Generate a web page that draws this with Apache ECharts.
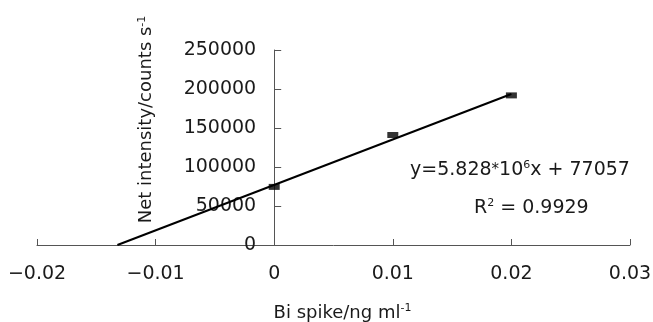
<!DOCTYPE html>
<html><head><meta charset="utf-8">
<script src="https://cdn.jsdelivr.net/npm/echarts@6/dist/echarts.min.js"></script>
<style>html,body{margin:0;padding:0;background:#fff}#c{width:653px;height:322px}</style>
</head><body><div id="c"></div>
<script>
var spikeX = [0, 0.01, 0.02];
var intensityY = [74500, 141000, 191800];
var trendX = [-0.01322, 0.02];
var trendY = [0, 193617];
var xTicks = [-0.02, -0.01, 0, 0.01, 0.02, 0.03];
var yTicks = [0, 50000, 100000, 150000, 200000, 250000];
var eqText = ['y=5.828', '*', '10', '6', 'x + 77057'];
var r2Text = ['R', '2', ' = 0.9929'];

var FONT = '"DejaVu Sans", Verdana, sans-serif';
var TXT = '#1a1a1a';
var chart = echarts.init(document.getElementById('c'));
var pts = spikeX.map(function (x, i) { return [x, intensityY[i]]; });
var trend = trendX.map(function (x, i) { return [x, trendY[i]]; });
var sup = {fontSize: 11, fontFamily: FONT, color: TXT, fill: TXT, verticalAlign: 'bottom', padding: [0, 0, 10, 0]};
var GRID_LEFT = 37, GRID_RIGHT = 23;
var plotW = 653 - GRID_LEFT - GRID_RIGHT;
var yAxisShift = (0 - xTicks[0]) / (xTicks[xTicks.length - 1] - xTicks[0]) * plotW;
chart.setOption({
  animation: false,
  grid: {left: GRID_LEFT, right: GRID_RIGHT, top: 50, bottom: 77, containLabel: false, outerBoundsMode: 'none'},
  xAxis: {
    type: 'value', min: xTicks[0], max: xTicks[xTicks.length - 1], interval: 0.01,
    splitLine: {show: false},
    axisLine: {onZero: false, lineStyle: {color: '#555', width: 1}},
    axisTick: {inside: true, length: 6, lineStyle: {color: '#555'}},
    axisLabel: {color: TXT, fontSize: 19, fontFamily: FONT, margin: 20,
      formatter: function (v) { var s = (Math.round(v * 100) / 100).toString(); return s.replace('-', '\u2212'); }},
    name: '{a|Bi spike/ng ml}{s|-1}', nameLocation: 'middle', nameGap: 58,
    nameTextStyle: {padding: [0, 0, 0, 18], rich: {a: {fontSize: 18, fontFamily: FONT, color: TXT}, s: sup}}
  },
  yAxis: {
    type: 'value', min: yTicks[0], max: yTicks[yTicks.length - 1], interval: 50000,
    offset: -yAxisShift,
    splitLine: {show: false},
    axisLine: {onZero: false, lineStyle: {color: '#555', width: 1}},
    axisTick: {inside: true, length: 7, lineStyle: {color: '#555'}},
    axisLabel: {color: TXT, fontSize: 19, fontFamily: FONT, margin: 18,
      formatter: function (v) { return String(v); }},
    name: '{a|Net intensity/counts s}{s|-1}', nameLocation: 'middle', nameGap: 117, nameRotate: 90,
    nameTextStyle: {padding: [0, 0, 0, 56], rich: {a: {fontSize: 18, fontFamily: FONT, color: TXT}, s: sup}}
  },
  series: [
    {type: 'line', data: trend, symbol: 'none', lineStyle: {color: '#000', width: 2}, z: 2},
    {type: 'scatter', data: pts, symbol: 'rect', symbolSize: [11, 6], itemStyle: {color: '#000'}, z: 3}
  ],
  graphic: [
    {type: 'text', left: 410, top: 160, style: {
      text: '{a|' + eqText[0] + '}{m|' + eqText[1] + '}{a|' + eqText[2] + '}{s|' + eqText[3] + '}{a|' + eqText[4] + '}',
      rich: {a: {fontSize: 19, fontFamily: FONT, fill: TXT}, m: {fontSize: 15, fontFamily: FONT, fill: TXT}, s: sup}}},
    {type: 'text', left: 474, top: 198, style: {
      text: '{a|' + r2Text[0] + '}{s|' + r2Text[1] + '}{a|' + r2Text[2] + '}',
      rich: {a: {fontSize: 19, fontFamily: FONT, fill: TXT}, s: sup}}}
  ]
});
</script></body></html>
